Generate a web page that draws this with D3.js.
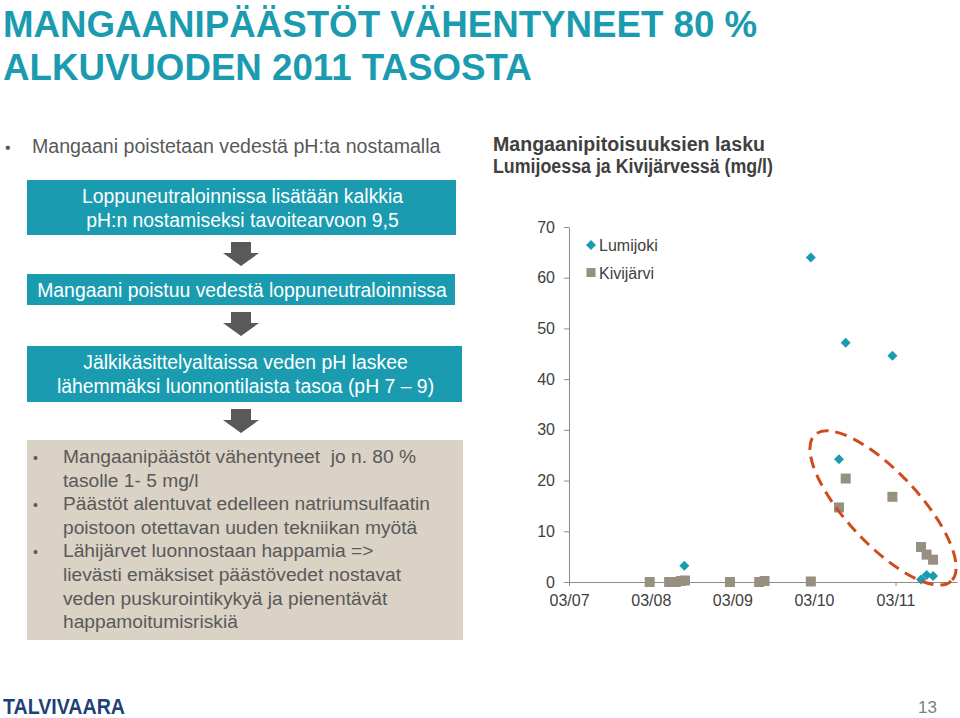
<!DOCTYPE html>
<html>
<head>
<meta charset="utf-8">
<script src="https://cdn.jsdelivr.net/npm/d3@7"></script>
<style>
    body { margin: 0; background: #fff; }
    svg { display: block; font-family: "Liberation Sans", Arial, sans-serif; }
</style>
</head>
<body>
<div id="slide"></div>
<script>

// ---- data ----
let lumijokiDates  = ['2008-07-29', '2010-02-15', '2010-06-21', '2010-07-21', '2011-02-15', '2011-06-23', '2011-07-18', '2011-08-16'];
let lumijokiValues = [3.2, 64.0, 24.2, 47.2, 44.6, 0.5, 1.4, 1.2];

let kivijarviDates  = ['2008-02-25', '2008-05-22', '2008-06-21', '2008-07-14', '2008-08-01', '2009-02-18', '2009-06-29', '2009-07-23',
                       '2010-02-15', '2010-06-21', '2010-07-21', '2011-02-15', '2011-06-23', '2011-07-18', '2011-08-16'];
let kivijarviValues = [0, 0, 0, 0.2, 0.3, 0, 0, 0.2, 0.1, 14.7, 20.4, 16.8, 6.9, 5.4, 4.4];

let xTickDates = ['2007-03-01', '2008-03-01', '2009-03-01', '2010-03-01', '2011-03-01'];
let xDomain    = ['2007-03-01', '2011-12-01'];
let yTicks     = [0, 10, 20, 30, 40, 50, 60, 70];

// circled group of late points (centre in data units)
let circledDate  = '2011-01-04';
let circledValue = 14.6;

let seriesNames = ['Lumijoki', 'Kivijärvi'];

let titleLines = ['MANGAANIPÄÄSTÖT VÄHENTYNEET 80 %', 'ALKUVUODEN 2011 TASOSTA'];
let chartTitle = ['Mangaanipitoisuuksien lasku', 'Lumijoessa ja Kivijärvessä (mg/l)'];
let introBullet = 'Mangaani poistetaan vedestä pH:ta nostamalla';
let stepBoxes = [
    ['Loppuneutraloinnissa lisätään kalkkia', 'pH:n nostamiseksi tavoitearvoon 9,5'],
    ['Mangaani poistuu vedestä loppuneutraloinnissa'],
    ['Jälkikäsittelyaltaissa veden pH laskee', 'lähemmäksi luonnontilaista tasoa (pH 7 – 9)']
];
let resultBullets = [
    ['Mangaanipäästöt vähentyneet  jo n. 80 %', 'tasolle 1- 5 mg/l'],
    ['Päästöt alentuvat edelleen natriumsulfaatin', 'poistoon otettavan uuden tekniikan myötä'],
    ['Lähijärvet luonnostaan happamia =>', 'lievästi emäksiset päästövedet nostavat', 'veden puskurointikykyä ja pienentävät', 'happamoitumisriskiä']
];

// ---- colours ----
const teal = '#1a9bb0';
const taupe = '#978f80';
const darkText = '#404040';
const greyText = '#595959';

let parseDate = d3.timeParse('%Y-%m-%d');

let svg = d3.select('#slide').append('svg')
    .attr('width', 960)
    .attr('height', 718);

// ---- slide title ----
svg.append('g').selectAll('text')
    .data(titleLines)
    .enter().append('text')
    .attr('x', 3)
    .attr('y', (d, i) => 37 + i * 43)
    .attr('font-size', 36.7)
    .attr('font-weight', 'bold')
    .attr('fill', teal)
    .text(d => d);

// ---- left column ----
let left = svg.append('g');

left.append('text').attr('x', 5).attr('y', 153).attr('font-size', 16).attr('fill', greyText).text('•');
left.append('text').attr('x', 32).attr('y', 153).attr('font-size', 19.6).attr('fill', greyText).text(introBullet);

let boxTops = [180, 274, 346];
let boxHeights = [55, 31, 56];
let boxRight = [456, 455, 462];

stepBoxes.forEach((lines, i) => {
    left.append('rect')
        .attr('x', 27).attr('y', boxTops[i])
        .attr('width', boxRight[i] - 27).attr('height', boxHeights[i])
        .attr('fill', teal);
    let cx = (27 + boxRight[i]) / 2 + 1;
    lines.forEach((l, j) => {
        left.append('text')
            .attr('x', cx)
            .attr('y', boxTops[i] + 23 + j * 23.5)
            .attr('text-anchor', 'middle')
            .attr('font-size', 19.4)
            .attr('fill', '#fff')
            .text(l);
    });
});

// down arrows between boxes
let arrowTops = [242, 312, 409];
arrowTops.forEach(t => {
    let cx = 241;
    left.append('path')
        .attr('d', `M${cx - 10},${t} H${cx + 10} V${t + 11} H${cx + 18} L${cx},${t + 24} L${cx - 18},${t + 11} H${cx - 10} Z`)
        .attr('fill', '#595959');
});

// result box
left.append('rect')
    .attr('x', 27).attr('y', 440)
    .attr('width', 436).attr('height', 200)
    .attr('fill', '#d9d2c5');

let lineNo = 0;
resultBullets.forEach(lines => {
    left.append('text')
        .attr('x', 33).attr('y', 463 + lineNo * 23.6)
        .attr('font-size', 14).attr('fill', greyText).text('•');
    lines.forEach(l => {
        left.append('text')
            .attr('x', 63).attr('y', 463 + lineNo * 23.6)
            .attr('font-size', 19.2).attr('fill', greyText)
            .attr('xml:space', 'preserve')
            .text(l);
        lineNo++;
    });
});

// ---- chart ----
let margin = {top: 227, left: 569};
let width = 388, height = 355;

let chart = svg.append('g')
    .attr('transform', `translate(${margin.left}, ${margin.top})`);

let chartTitleWidths = [272, 280];
svg.append('g').selectAll('text')
    .data(chartTitle)
    .enter().append('text')
    .attr('x', 493)
    .attr('y', (d, i) => 151 + i * 22)
    .attr('font-size', 19.5)
    .attr('font-weight', 'bold')
    .attr('fill', darkText)
    .attr('textLength', (d, i) => chartTitleWidths[i])
    .attr('lengthAdjust', 'spacingAndGlyphs')
    .text(d => d);

let x = d3.scaleTime()
    .domain(xDomain.map(parseDate))
    .range([0, width]);

let y = d3.scaleLinear()
    .domain([0, 70])
    .range([height, 0]);

let yAxis = chart.append('g')
    .call(d3.axisLeft(y).tickValues(yTicks).tickSize(5).tickPadding(9).tickSizeOuter(0));
yAxis.select('.domain').attr('stroke', '#8c8c8c');
yAxis.selectAll('.tick line').attr('stroke', '#8c8c8c');
yAxis.selectAll('.tick text').attr('font-size', 16).attr('fill', darkText).attr('font-family', 'Liberation Sans, Arial, sans-serif');

let xAxis = chart.append('g')
    .attr('transform', `translate(0, ${height})`)
    .call(d3.axisBottom(x)
        .tickValues(xTickDates.map(parseDate))
        .tickFormat(d3.timeFormat('%m/%y'))
        .tickSize(4).tickPadding(6).tickSizeOuter(0));
xAxis.select('.domain').attr('stroke', '#8c8c8c');
xAxis.selectAll('.tick line').attr('stroke', '#8c8c8c');
xAxis.selectAll('.tick text').attr('font-size', 16).attr('fill', darkText).attr('dy', '0.9em').attr('font-family', 'Liberation Sans, Arial, sans-serif');

// Kivijärvi squares
let kivi = kivijarviDates.map((d, i) => ({date: parseDate(d), value: kivijarviValues[i]}));
chart.selectAll('.kivi')
    .data(kivi)
    .enter().append('rect')
    .attr('class', 'kivi')
    .attr('x', d => x(d.date) - 5)
    .attr('y', d => y(d.value) - 5)
    .attr('width', 10).attr('height', 10)
    .attr('fill', taupe);

// Lumijoki diamonds
let lumi = lumijokiDates.map((d, i) => ({date: parseDate(d), value: lumijokiValues[i]}));
let diamond = 'M0,-5 L5,0 L0,5 L-5,0 Z';
chart.selectAll('.lumi')
    .data(lumi)
    .enter().append('path')
    .attr('class', 'lumi')
    .attr('d', diamond)
    .attr('transform', d => `translate(${x(d.date)}, ${y(d.value)})`)
    .attr('fill', teal);

// dashed ellipse round the 2010-2011 points
chart.append('ellipse')
    .attr('transform', `translate(${x(parseDate(circledDate))}, ${y(circledValue)}) rotate(47)`)
    .attr('rx', 100).attr('ry', 36)
    .attr('fill', 'none')
    .attr('stroke', '#d04a1c')
    .attr('stroke-width', 3)
    .attr('stroke-dasharray', '12,7');

// legend
let legend = chart.append('g').attr('transform', 'translate(22, 18)');
legend.append('path').attr('d', diamond).attr('fill', teal);
legend.append('rect').attr('x', -4.5).attr('y', 23).attr('width', 9).attr('height', 9).attr('fill', taupe);
legend.selectAll('text')
    .data(seriesNames)
    .enter().append('text')
    .attr('x', 8)
    .attr('y', (d, i) => 6 + i * 28)
    .attr('font-size', 16)
    .attr('fill', darkText)
    .text(d => d);

// ---- footer ----
svg.append('text')
    .attr('x', 3).attr('y', 714)
    .attr('font-size', 22)
    .attr('font-weight', 900)
    .attr('fill', '#1f3f78')
    .attr('textLength', 122)
    .attr('lengthAdjust', 'spacingAndGlyphs')
    .text('TALVIVAARA');

svg.append('text')
    .attr('x', 937).attr('y', 713)
    .attr('text-anchor', 'end')
    .attr('font-size', 17)
    .attr('fill', '#7f7f7f')
    .text('13');

</script>
</body>
</html>
